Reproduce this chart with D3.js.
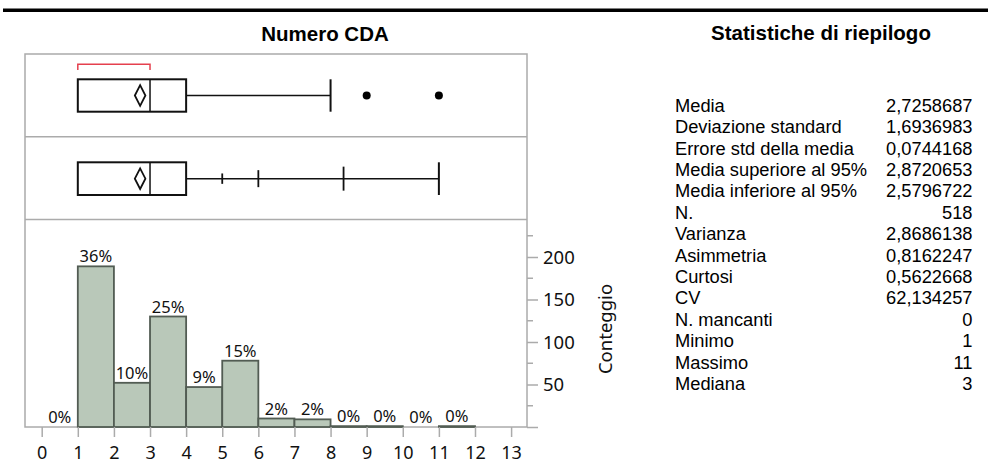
<!DOCTYPE html>
<html>
<head>
<meta charset="utf-8">
<script src="https://cdn.jsdelivr.net/npm/d3@7"></script>
<style>
  body { margin: 0; background: #fff; }
  svg { display: block; }
</style>
</head>
<body>
<div id="chart"></div>
<script>
// dati istogramma (classi di ampiezza 1, da 0 a 12)
const binStarts = [0, 1, 2, 3, 4, 5, 6, 7, 8, 9, 10, 11];
const counts = [0, 189, 52, 130, 47, 78, 10, 9, 1, 1, 0, 1];
const xTickValues = [0, 1, 2, 3, 4, 5, 6, 7, 8, 9, 10, 11, 12, 13];
const yTickValues = [0, 50, 100, 150, 200];
const yMinorTicks = [25, 75, 125, 175, 225];

// box plot dei valori anomali
const quartiles = [1, 3, 4];          // Q1, mediana, Q3
const whiskers = [1, 8];
const outliers = [9, 11];
const meanCI = [2.5796722, 2.7258687, 2.8720653];
const shortestHalf = [1, 3];
// box plot dei quantili
const quantileWhisker = [4, 11];
const quantileTicks = [5, 6, 8.36];

// statistiche di riepilogo
const statLabels = ["Media", "Deviazione standard", "Errore std della media",
  "Media superiore al 95%", "Media inferiore al 95%", "N.", "Varianza",
  "Asimmetria", "Curtosi", "CV", "N. mancanti", "Minimo", "Massimo", "Mediana"];
const statValues = ["2,7258687", "1,6936983", "0,0744168", "2,8720653", "2,5796722",
  "518", "2,8686138", "0,8162247", "0,5622668", "62,134257", "0", "1", "11", "3"];

const W = 988, H = 465;
const total = d3.sum(counts);

const svg = d3.select("#chart").append("svg")
  .attr("width", W).attr("height", H);

// linea nera in alto
svg.append("rect").attr("x", 3).attr("y", 8.5).attr("width", W - 3).attr("height", 3.5).attr("fill", "#000");

const titleFont = "'Liberation Sans', Arial, sans-serif";
const axisFont = "'Noto Sans', 'Open Sans', sans-serif";

svg.append("text").attr("x", 325).attr("y", 41)
  .attr("text-anchor", "middle").attr("font-family", titleFont)
  .attr("font-weight", "bold").attr("font-size", 20.5).text("Numero CDA");

svg.append("text").attr("x", 821).attr("y", 39.5)
  .attr("text-anchor", "middle").attr("font-family", titleFont)
  .attr("font-weight", "bold").attr("font-size", 20.5).text("Statistiche di riepilogo");

// pannelli
const frameL = 25, frameR = 527;
const top1 = 54, div1 = 136.7, div2 = 219.5, bottom = 427;
const gray = "#ababab";

const x = d3.scaleLinear().domain([0, 13]).range([41.7, 511.1]);
const y = d3.scaleLinear().domain([0, 200]).range([bottom, bottom - 170]);

// cornice
const frame = svg.append("g").attr("fill", "none").attr("stroke", gray).attr("stroke-width", 1.5);
frame.append("rect").attr("x", frameL).attr("y", top1).attr("width", frameR - frameL).attr("height", bottom - top1);
frame.append("line").attr("x1", frameL).attr("x2", frameR).attr("y1", div1).attr("y2", div1);
frame.append("line").attr("x1", frameL).attr("x2", frameR).attr("y1", div2).attr("y2", div2);

// ---------- box plot valori anomali ----------
const b1 = svg.append("g").attr("stroke", "#111").attr("fill", "none");
const b1Top = 79.3, b1Bot = 111.7, b1Mid = (b1Top + b1Bot) / 2;

// parentesi rossa (metà più breve)
b1.append("path")
  .attr("d", `M${x(shortestHalf[0])},70 V64.3 H${x(shortestHalf[1])} V70`)
  .attr("stroke", "#e5404e").attr("stroke-width", 1.5);

b1.append("rect").attr("x", x(quartiles[0])).attr("y", b1Top)
  .attr("width", x(quartiles[2]) - x(quartiles[0])).attr("height", b1Bot - b1Top)
  .attr("stroke-width", 2);
b1.append("line").attr("x1", x(quartiles[1])).attr("x2", x(quartiles[1]))
  .attr("y1", b1Top).attr("y2", b1Bot).attr("stroke-width", 1.5);
b1.append("line").attr("x1", x(quartiles[2])).attr("x2", x(whiskers[1]))
  .attr("y1", b1Mid).attr("y2", b1Mid).attr("stroke-width", 1.5);
b1.append("line").attr("x1", x(whiskers[1])).attr("x2", x(whiskers[1]))
  .attr("y1", b1Top).attr("y2", b1Bot).attr("stroke-width", 2);

svg.append("g").selectAll("circle").data(outliers).join("circle")
  .attr("cx", d => x(d)).attr("cy", b1Mid).attr("r", 4).attr("fill", "#000");

function diamond(g, cy) {
  const hh = 10.3;
  g.append("path")
    .attr("d", `M${x(meanCI[0])},${cy} L${x(meanCI[1])},${cy - hh} L${x(meanCI[2])},${cy} L${x(meanCI[1])},${cy + hh} Z`)
    .attr("fill", "none").attr("stroke", "#111").attr("stroke-width", 1.8);
}
diamond(b1, b1Mid);

// ---------- box plot dei quantili ----------
const b2 = svg.append("g").attr("stroke", "#111").attr("fill", "none");
const b2Top = 162.3, b2Bot = 195, b2Mid = (b2Top + b2Bot) / 2;
b2.append("rect").attr("x", x(quartiles[0])).attr("y", b2Top)
  .attr("width", x(quartiles[2]) - x(quartiles[0])).attr("height", b2Bot - b2Top)
  .attr("stroke-width", 2);
b2.append("line").attr("x1", x(quartiles[1])).attr("x2", x(quartiles[1]))
  .attr("y1", b2Top).attr("y2", b2Bot).attr("stroke-width", 1.5);
b2.append("line").attr("x1", x(quantileWhisker[0])).attr("x2", x(quantileWhisker[1]))
  .attr("y1", b2Mid).attr("y2", b2Mid).attr("stroke-width", 1.5);
const tickHalf = [5.2, 8.5, 12];
b2.selectAll("line.q").data(quantileTicks).join("line").attr("class", "q")
  .attr("x1", d => x(d)).attr("x2", d => x(d))
  .attr("y1", (d, i) => b2Mid - tickHalf[i]).attr("y2", (d, i) => b2Mid + tickHalf[i])
  .attr("stroke-width", 1.8);
b2.append("line").attr("x1", x(quantileWhisker[1])).attr("x2", x(quantileWhisker[1]))
  .attr("y1", b2Top).attr("y2", b2Bot).attr("stroke-width", 2);
diamond(b2, b2Mid);

// ---------- istogramma ----------
const bars = svg.append("g");
bars.selectAll("rect").data(binStarts.map((s, i) => ({ s, c: counts[i] })).filter(d => d.c > 0))
  .join("rect")
  .attr("x", d => x(d.s)).attr("width", d => x(d.s + 1) - x(d.s))
  .attr("y", d => y(d.c)).attr("height", d => y(0) - y(d.c))
  .attr("fill", "#b9c8b9").attr("stroke", "#525c53").attr("stroke-width", 1.8);

// etichette percentuali
svg.append("g").selectAll("text").data(binStarts.map((s, i) => ({ s, c: counts[i] })))
  .join("text")
  .attr("x", d => x(d.s + 0.5)).attr("y", d => y(d.c) - 4)
  .attr("text-anchor", "middle").attr("font-family", axisFont).attr("font-size", 16.5)
  .attr("fill", "#111")
  .text(d => Math.round(d.c / total * 100) + "%");

// asse x
const xAxis = svg.append("g").attr("transform", `translate(0,${bottom})`)
  .call(d3.axisBottom(x).tickValues(xTickValues).tickSize(10).tickPadding(9.5).tickSizeOuter(0));
xAxis.select(".domain").remove();
xAxis.selectAll("line").attr("stroke", gray).attr("stroke-width", 1.5);
xAxis.selectAll("text").attr("font-family", axisFont).attr("font-size", 18).attr("fill", "#111");

// asse y (a destra)
const yAxis = svg.append("g").attr("transform", `translate(${frameR},0)`)
  .call(d3.axisRight(y).tickValues(yTickValues).tickSize(11).tickPadding(5)
    .tickFormat(d => d === 0 ? "" : d));
yAxis.select(".domain").remove();
yAxis.selectAll("line").attr("stroke", gray).attr("stroke-width", 1.5);
yAxis.selectAll("text").attr("font-family", axisFont).attr("font-size", 18.5).attr("fill", "#111")
  .attr("dy", "0.34em");
svg.append("g").selectAll("line").data(yMinorTicks).join("line")
  .attr("x1", frameR).attr("x2", frameR + 6)
  .attr("y1", d => y(d)).attr("y2", d => y(d))
  .attr("stroke", gray).attr("stroke-width", 1.5);

svg.append("text")
  .attr("transform", `translate(612,329) rotate(-90)`)
  .attr("text-anchor", "middle").attr("font-family", axisFont).attr("font-size", 18.5)
  .attr("fill", "#111").text("Conteggio");

// tabella statistiche
const stats = svg.append("g").attr("font-family", titleFont).attr("font-size", 18.3).attr("fill", "#000");
stats.selectAll("text.l").data(statLabels).join("text").attr("class", "l")
  .attr("x", 675).attr("y", (d, i) => 111.7 + i * 21.4).text(d => d);
stats.selectAll("text.v").data(statValues).join("text").attr("class", "v")
  .attr("x", 972.5).attr("y", (d, i) => 111.7 + i * 21.4)
  .attr("text-anchor", "end").text(d => d);
</script>
</body>
</html>
